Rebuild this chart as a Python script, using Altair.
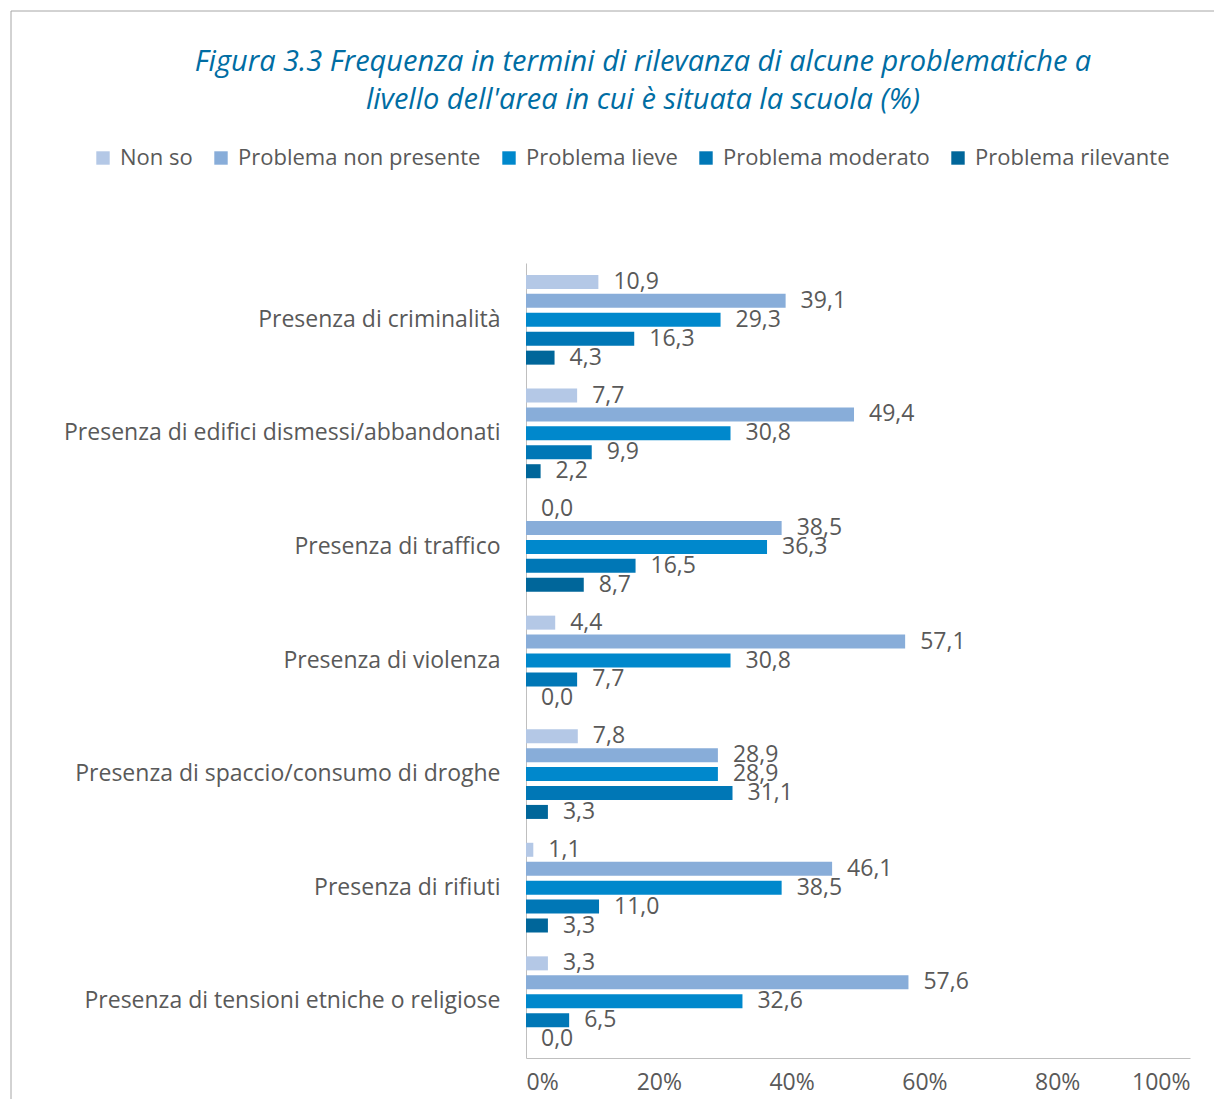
import altair as alt
import pandas as pd

categories = [
    "Presenza di criminalità",
    "Presenza di edifici dismessi/abbandonati",
    "Presenza di traffico",
    "Presenza di violenza",
    "Presenza di spaccio/consumo di droghe",
    "Presenza di rifiuti",
    "Presenza di tensioni etniche o religiose",
]
series = ["Non so", "Problema non presente", "Problema lieve", "Problema moderato", "Problema rilevante"]
non_so = [10.9, 7.7, 0.0, 4.4, 7.8, 1.1, 3.3]
non_presente = [39.1, 49.4, 38.5, 57.1, 28.9, 46.1, 57.6]
lieve = [29.3, 30.8, 36.3, 30.8, 28.9, 38.5, 32.6]
moderato = [16.3, 9.9, 16.5, 7.7, 31.1, 11.0, 6.5]
rilevante = [4.3, 2.2, 8.7, 0.0, 3.3, 3.3, 0.0]
colors = ["#B4C8E6", "#88ADD9", "#0088CC", "#0077B6", "#00669A"]
x_ticks = [0, 20, 40, 60, 80, 100]

rows = []
for s, vals in zip(series, [non_so, non_presente, lieve, moderato, rilevante]):
    for c, v in zip(categories, vals):
        rows.append({"cat": c, "series": s, "value": v, "label": f"{v:.1f}".replace(".", ",")})
df = pd.DataFrame(rows)

FONT = "Open Sans"
GRAY = "#595959"
FS = 23

y_enc = alt.Y("cat:N", sort=categories, title=None,
              scale=alt.Scale(paddingInner=0, paddingOuter=0),
              axis=alt.Axis(labelFontSize=FS, labelColor=GRAY, labelFont=FONT, ticks=False,
                            domainColor="#BFBFBF", labelPadding=26, labelLimit=600))
yoff = alt.YOffset("series:N", sort=series, scale=alt.Scale(paddingInner=0.26, paddingOuter=0.63))

base = alt.Chart(df)

bars = base.mark_bar().encode(
    x=alt.X("value:Q", stack=False, title=None,
            scale=alt.Scale(domain=[0, 100], nice=False),
            axis=alt.Axis(values=x_ticks, labelExpr="datum.value + '%'", grid=False, ticks=False,
                          labelFontSize=FS, labelColor=GRAY, labelFont=FONT, labelPadding=13,
                          domainColor="#BFBFBF")),
    y=y_enc,
    yOffset=yoff,
    color=alt.Color("series:N", sort=series,
                    scale=alt.Scale(domain=series, range=colors),
                    legend=alt.Legend(title=None, orient="none", direction="horizontal",
                                      legendX=-434, legendY=-116, symbolType="square",
                                      symbolSize=180, symbolStrokeWidth=0, labelFontSize=22,
                                      labelFont=FONT, labelColor=GRAY, columnPadding=17,
                                      symbolOffset=0, labelOffset=6, labelLimit=400)),
)

labels = base.mark_text(align="left", baseline="middle", dx=15, fontSize=FS, font=FONT, color=GRAY).encode(
    x=alt.X("value:Q", stack=False),
    y=alt.Y("cat:N", sort=categories),
    yOffset=yoff,
    text="label:N",
)

frame = alt.Chart(pd.DataFrame([{"a": 1}])).mark_rect(fillOpacity=0, stroke="#A6A6A6", strokeWidth=1).encode(
    x=alt.value(-515), x2=alt.value(800), y=alt.value(-252), y2=alt.value(900)
)

chart = alt.layer(frame, bars, labels).properties(
    width=664, height=795,
    padding={"left": 518, "top": 255, "right": 24, "bottom": 41},
    autosize=alt.AutoSizeParams(type="none"),
    background="white",
    title=alt.TitleParams(
        text=["Figura 3.3 Frequenza in termini di rilevanza di alcune problematiche a",
              "livello dell'area in cui è situata la scuola (%)"],
        font=FONT, fontSize=29, fontStyle="italic", fontWeight="normal", color="#006DA3",
        anchor="middle", frame="group", dx=-215, offset=-104, lineHeight=38,
    ),
).configure_view(strokeWidth=0)

chart.save("out.html", embed_options={"renderer": "svg", "actions": False})
